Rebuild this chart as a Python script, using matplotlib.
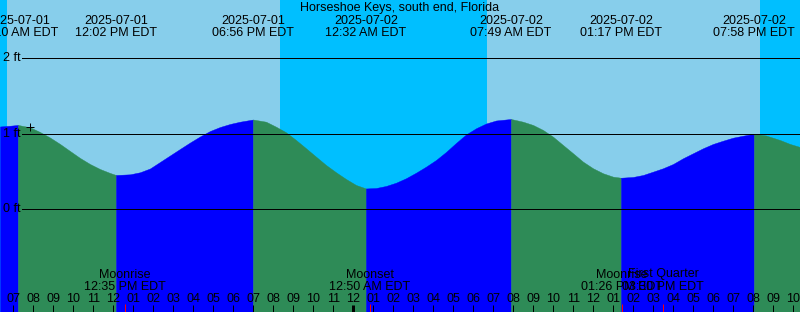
import numpy as np
import matplotlib
matplotlib.use("Agg")
from matplotlib import pyplot as plt
from matplotlib.transforms import blended_transform_factory

plt.rcParams['font.family'] = ['Liberation Sans', 'DejaVu Sans']

# time axis: hours after 2025-07-01 07:00 EDT
title = "Horseshoe Keys, south end, Florida"

# tide height readings (hours, ft)
tide_t = [-0.665, -0.165, 0.235, 0.835, 1.335, 1.835, 2.335, 2.835, 3.335, 3.835,
          4.335, 4.835, 5.135, 5.835, 6.335, 6.835, 7.335, 7.835, 8.335, 8.835,
          9.335, 9.835, 10.335, 10.835, 11.335, 11.985, 12.635, 13.135, 13.635,
          14.135, 14.635, 15.135, 15.635, 16.135, 16.635, 17.135, 17.635, 18.135,
          18.635, 19.135, 19.635, 20.135, 20.635, 21.135, 21.635, 22.135, 22.635,
          23.135, 23.635, 24.135, 24.885, 25.485, 25.985, 26.485, 26.985, 27.485,
          27.985, 28.485, 28.985, 29.485, 29.985, 30.385, 30.985, 31.485, 31.985,
          32.485, 32.985, 33.485, 33.985, 34.485, 34.985, 35.485, 35.985, 36.485,
          37.035, 37.635, 38.335, 38.835, 39.335]
tide_ft = [1.094, 1.104, 1.114, 1.083, 1.021, 0.948, 0.863, 0.770, 0.678, 0.598,
           0.532, 0.480, 0.453, 0.462, 0.489, 0.539, 0.625, 0.711, 0.797, 0.882,
           0.962, 1.034, 1.087, 1.127, 1.157, 1.186, 1.157, 1.091, 1.017,
           0.915, 0.806, 0.695, 0.585, 0.489, 0.400, 0.321, 0.275, 0.281,
           0.308, 0.351, 0.410, 0.483, 0.563, 0.651, 0.757, 0.876, 0.988,
           1.070, 1.133, 1.173, 1.193, 1.157, 1.114, 1.048, 0.959, 0.849,
           0.740, 0.629, 0.542, 0.476, 0.431, 0.417, 0.427, 0.453, 0.497,
           0.542, 0.598, 0.674, 0.740, 0.806, 0.863, 0.906, 0.946, 0.972,
           0.997, 0.975, 0.915, 0.863, 0.823]

# high / low tide events shown at the top
event_t = [0.235, 5.135, 11.985, 17.635, 24.885, 30.385, 37.035]
event_date = ["2025-07-01", "2025-07-01", "2025-07-01", "2025-07-02",
              "2025-07-02", "2025-07-02", "2025-07-02"]
event_time = ["07:10 AM EDT", "12:02 PM EDT", "06:56 PM EDT", "12:32 AM EDT",
              "07:49 AM EDT", "01:17 PM EDT", "07:58 PM EDT"]

# sunrise / sunset
sunrise_t = [-0.315, 23.685]
sunset_t = [13.335, 37.335]

# moon events at the bottom
moon_t = [5.583, 17.833, 30.433, 32.5]
moon_name = ["Moonrise", "Moonset", "Moonrise", "First Quarter"]
moon_time = ["12:35 PM EDT", "12:50 AM EDT", "01:26 PM EDT", "03:30 PM EDT"]

hours = list(range(0, 40))
hour_labels = ["%02d" % ((7 + h - 1) % 12 + 1) for h in hours]
midnight_t = 17

gridlines = [0, 1, 2]
now_t, now_ft = 0.835, 1.083

W, H = 800, 312
x0, x1 = -0.665, 39.335
y0, y1 = -1.357, 2.765

fig = plt.figure(figsize=(W / 100, H / 100), dpi=100)
ax = fig.add_axes([0, 0, 1, 1])
ax.set_xlim(x0, x1)
ax.set_ylim(y0, y1)
ax.axis('off')

day = '#87ceeb'
night = '#00bfff'
ax.axvspan(x0, x1, color=night, lw=0)
for sr, ss in zip(sunrise_t, sunset_t):
    ax.axvspan(sr, ss, color=day, lw=0)

# tide fill, green when falling, blue when rising
t = np.array(tide_t)
f = np.array(tide_ft)
rising = np.diff(f) > 0
start = 0
for i in range(1, len(rising) + 1):
    if i == len(rising) or rising[i] != rising[start]:
        c = '#0000ff' if rising[start] else '#2e8b57'
        ax.fill_between(t[start:i + 1], f[start:i + 1], y0, color=c, lw=0.3,
                        edgecolor=c)
        start = i

px = 1 / 100 * 72  # one pixel in points
for g in gridlines:
    ax.axhline(g, xmin=22 / W, xmax=1, color='black', lw=px)
    ax.text(x0 + 2.7 / 20, g, "%d ft" % g, ha='left', va='center',
            fontsize=9)

ax.plot([now_t], [now_ft], marker='+', color='black', ms=5.5, mew=px)

tr = blended_transform_factory(ax.transData, ax.transAxes)


def yf(ypx):
    return 1 - ypx / H


ax.text(0.5, yf(11.5), title, transform=ax.transAxes, ha='center',
        va='baseline', fontsize=9)
for et, d, tm in zip(event_t, event_date, event_time):
    ax.text(et, yf(23.5), d, transform=tr, ha='center', va='baseline', fontsize=9)
    ax.text(et, yf(35.7), tm, transform=tr, ha='center', va='baseline', fontsize=9)

for mt, name, tm in zip(moon_t, moon_name, moon_time):
    ax.text(mt, yf(277.5), name, transform=tr, ha='center', va='baseline', fontsize=9)
    ax.text(mt, yf(289.5), tm, transform=tr, ha='center', va='baseline', fontsize=9)
    ax.plot([mt, mt], [yf(304), 0], transform=tr, color='red', lw=px,
            solid_capstyle='butt')

for h, lab in zip(hours, hour_labels):
    ax.text(h, yf(301.7), lab, transform=tr, ha='center', va='baseline', fontsize=9)
    w = 3 * px if h == midnight_t else px
    ax.plot([h, h], [yf(305), 0], transform=tr, color='black', lw=w,
            solid_capstyle='butt')

fig.savefig('out.png', dpi=100)
